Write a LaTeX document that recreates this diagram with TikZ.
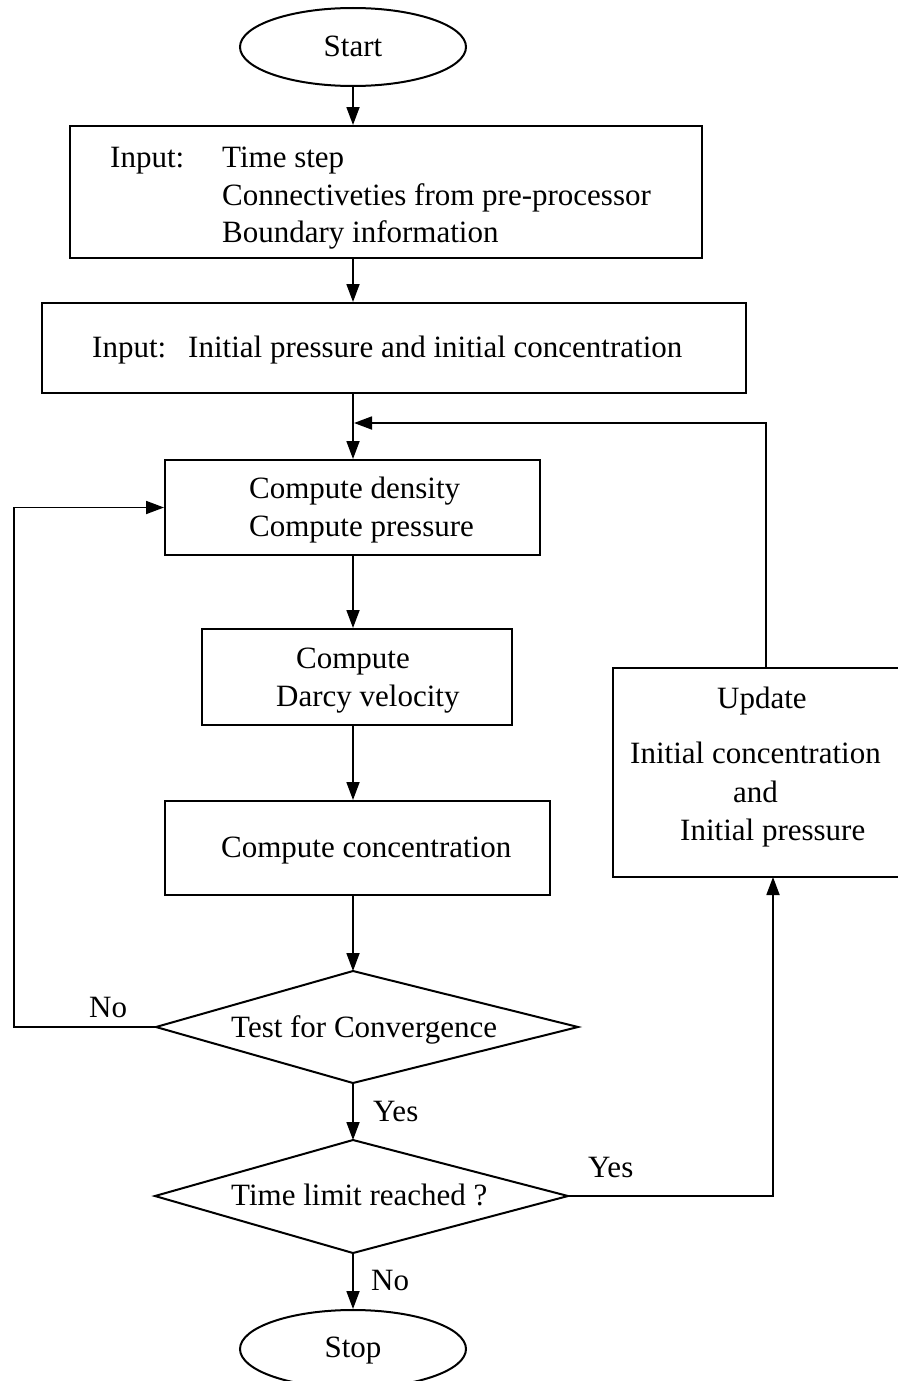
\documentclass[tikz,border=0pt]{standalone}
\usepackage{fontspec}
\setmainfont{Liberation Serif}
\usetikzlibrary{shapes.geometric,arrows.meta}
\begin{document}
\begin{tikzpicture}[x=1pt,y=-1pt,
  every node/.style={font=\fontsize{31}{37}\selectfont},
  line/.style={line width=2pt},
  arr/.style={line width=1.8pt,-{Triangle[length=18pt,width=13pt]}},
  boxnode/.style={draw,line width=2pt,rectangle,inner sep=0pt},
  ovalnode/.style={draw,line width=2pt,ellipse,inner sep=0pt,minimum width=226pt,minimum height=78pt},
  txt/.style={anchor=base west,inner sep=0pt},
  lbl/.style={anchor=base west,inner sep=0pt}]
\useasboundingbox (0,0) rectangle (897,1381);
% shapes
\node[ovalnode] (start) at (353,47) {};
\node[boxnode,minimum width=632pt,minimum height=132pt] (b1) at (386,192) {};
\node[boxnode,minimum width=704pt,minimum height=90pt] (b2) at (394,348) {};
\node[boxnode,minimum width=375pt,minimum height=95pt] (b3) at (352.5,507.5) {};
\node[boxnode,minimum width=310pt,minimum height=96pt] (b4) at (357,677) {};
\node[boxnode,minimum width=385pt,minimum height=94pt] (b5) at (357.5,848) {};
\node[boxnode,minimum width=287pt,minimum height=209pt] (up) at (756.5,772.5) {};
\node[ovalnode] (stop) at (353,1349) {};
% diamonds
\coordinate (d1t) at (353,971);
\coordinate (d1r) at (578,1027);
\coordinate (d1b) at (353,1083);
\coordinate (d1l) at (156,1027);
\draw[line,line join=miter] (d1t) -- (d1r) -- (d1b) -- (d1l) -- cycle;
\coordinate (d2t) at (353,1140);
\coordinate (d2r) at (568,1196);
\coordinate (d2b) at (353,1253);
\coordinate (d2l) at (155,1196);
\draw[line,line join=miter] (d2t) -- (d2r) -- (d2b) -- (d2l) -- cycle;
% texts
\node[anchor=base,inner sep=0pt] (tstart) at (353,57) {Start};
\node[txt] (t1a) at (110,167) {Input:};
\node[txt] (t1b) at (222,167) {Time step};
\node[txt] (t1c) at (222,205) {Connectiveties from pre-processor};
\node[txt] (t1d) at (222,242) {Boundary information};
\node[txt] (t2a) at (92,357) {Input:};
\node[txt] (t2b) at (188,357) {Initial pressure and initial concentration};
\node[txt] (t3a) at (249,498) {Compute density};
\node[txt] (t3b) at (249,536) {Compute pressure};
\node[txt] (t4a) at (296,668) {Compute};
\node[txt] (t4b) at (276,706) {Darcy velocity};
\node[txt] (t5) at (221,857) {Compute concentration};
\node[txt] (tua) at (717,708) {Update};
\node[txt] (tub) at (630,763) {Initial concentration};
\node[txt] (tuc) at (733,802) {and};
\node[txt] (tud) at (680,840) {Initial pressure};
\node[txt] (d1) at (231,1037) {Test for Convergence};
\node[txt] (d2) at (231,1205) {Time limit reached ?};
\node[anchor=base,inner sep=0pt] (tstop) at (353,1357) {Stop};
% labels
\node[lbl] (lno1) at (89,1017) {No};
\node[lbl] (lyes1) at (373,1121) {Yes};
\node[lbl] (lyes2) at (588,1177) {Yes};
\node[lbl] (lno2) at (371,1290) {No};
% connectors
\draw[arr] (start.south) -- (start.south |- b1.north);
\draw[arr] (start.south |- b1.south) -- (start.south |- b2.north);
\draw[arr] (start.south |- b2.south) -- (start.south |- b3.north);
\draw[arr] (start.south |- b3.south) -- (start.south |- b4.north);
\draw[arr] (start.south |- b4.south) -- (start.south |- b5.north);
\draw[arr] (start.south |- b5.south) -- (d1t);
\draw[arr] (d1b) -- (d2t);
\draw[arr] (d2b) -- (stop.north);
\coordinate (noleft) at (14,1027);
\draw[arr] (d1l) -- (noleft) |- (b3.west);
\coordinate (yesup) at (773,877);
\draw[arr] (d2r) -| (yesup);
\coordinate (fbtop) at (766,668);
\coordinate (fbend) at (354,423);
\draw[arr] (fbtop) |- (fbend);
\end{tikzpicture}
\end{document}
